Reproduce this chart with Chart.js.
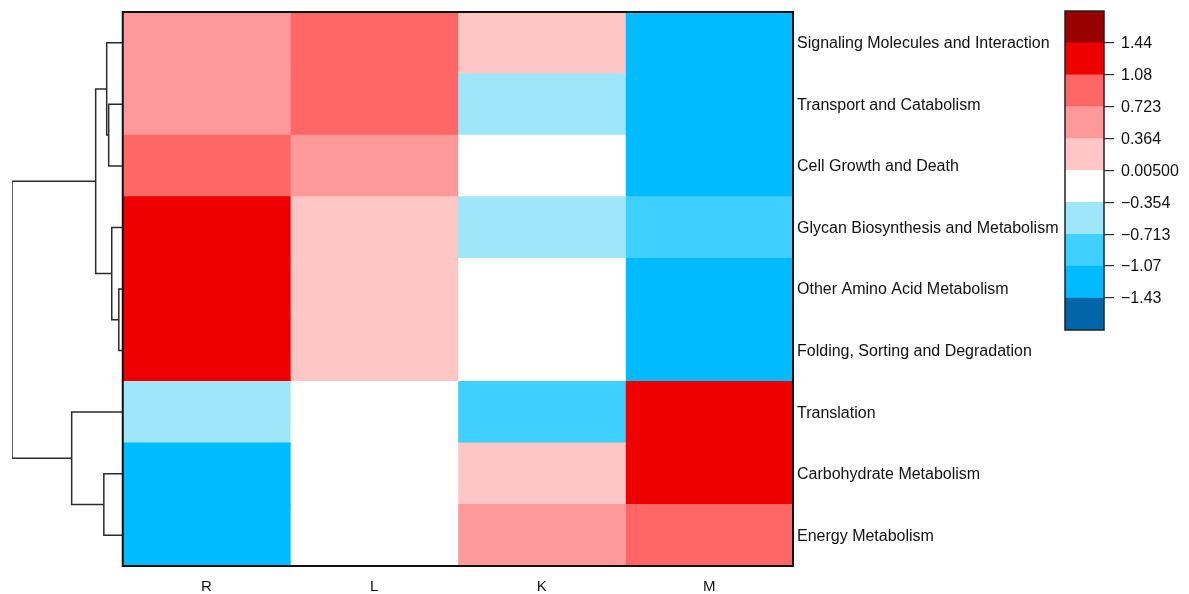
<!DOCTYPE html>
<html>
<head>
<meta charset="utf-8">
<script src="https://cdn.jsdelivr.net/npm/chart.js@4.4.1/dist/chart.umd.min.js"></script>
<style>
  html, body { margin: 0; padding: 0; background: #ffffff; }
  #wrap { position: relative; width: 1189px; height: 594px; }
  #heat { position: absolute; left: 0; top: 0; }
  #bar { position: absolute; left: 1055px; top: 0; }
</style>
</head>
<body>
<div id="wrap">
  <canvas id="heat" width="1189" height="594"></canvas>
  <canvas id="bar" width="134" height="345"></canvas>
</div>
<script>
// Pathways (rows, top to bottom) and samples (columns)
const rowNames = [
  'Signaling Molecules and Interaction',
  'Transport and Catabolism',
  'Cell Growth and Death',
  'Glycan Biosynthesis and Metabolism',
  'Other Amino Acid Metabolism',
  'Folding, Sorting and Degradation',
  'Translation',
  'Carbohydrate Metabolism',
  'Energy Metabolism'
];
const colNames = ['R', 'L', 'K', 'M'];

// Row-scaled abundance (z-score) per sample
const valuesR = [0.52, 0.60, 0.90, 1.30, 1.15, 1.20, -0.45, -1.25, -1.30];
const valuesL = [0.85, 1.00, 0.55, 0.20, 0.20, 0.15, -0.05, -0.15, -0.30];
const valuesK = [0.03, -0.45, -0.10, -0.60, -0.05, -0.10, -0.90, 0.25, 0.60];
const valuesM = [-1.40, -1.15, -1.35, -0.90, -1.30, -1.25, 1.40, 1.15, 1.00];
const columns = [valuesR, valuesL, valuesK, valuesM];

// Row clustering (hclust style: negative = leaf number, positive = earlier merge)
const mergeLeft   = [-2, -1, -5, -4, 2, -8, -7, 5];
const mergeRight  = [-3,  1, -6,  3, 4, -9,  6, 7];
const mergeHeight = [0.64, 0.73, 0.18, 0.50, 1.23, 0.86, 2.32, 5.03];

// Colour key: bin edges, drawn break labels and bin colours
const keyEdges  = [-1.789, -1.43, -1.07, -0.713, -0.354, 0.005, 0.364, 0.723, 1.08, 1.44, 1.799];
const keyBreaks = [-1.43, -1.07, -0.713, -0.354, 0.005, 0.364, 0.723, 1.08, 1.44];
const keyLabels = ['\u22121.43', '\u22121.07', '\u22120.713', '\u22120.354', '0.00500', '0.364', '0.723', '1.08', '1.44'];
const keyColors = ['#0066AA', '#00BBFF', '#40D0FF', '#A0E6FA', '#FFFFFF',
                   '#FFC6C6', '#FF9999', '#FF6666', '#EE0000', '#990000'];

const FONT = "'Liberation Sans', Arial, Helvetica, sans-serif";

function colorFor(v) {
  for (let i = 0; i < keyColors.length; i++) {
    if (v >= keyEdges[i] && v < keyEdges[i + 1]) return keyColors[i];
  }
  return v < keyEdges[0] ? keyColors[0] : keyColors[keyColors.length - 1];
}

// keep the plot area exactly where the layout padding puts it
function noLabelPadding(s) {
  s.paddingTop = 0; s.paddingBottom = 0; s.paddingLeft = 0; s.paddingRight = 0;
}

// Heatmap cells: one floating bar per cell, spanning its column on x
const cellSets = columns.map((vals, c) => ({
  type: 'bar',
  label: colNames[c],
  indexAxis: 'y',
  grouped: false,
  barPercentage: 1,
  categoryPercentage: 1,
  borderWidth: 0,
  data: vals.map((v, r) => ({ y: r + 0.5, x: [c, c + 1] })),
  backgroundColor: vals.map(colorFor)
}));

// Dendrogram drawn on the same x axis, to the left of 0
const DENDRO_SPAN = 0.661;           // width of the tree in column units
const rootH = Math.max(...mergeHeight);
const hx = h => -h / rootH * DENDRO_SPAN;
const nodeY = [];
function nodePos(id) {
  return id < 0 ? { y: -id - 1 + 0.5, h: 0 } : { y: nodeY[id - 1], h: mergeHeight[id - 1] };
}
const treeSets = mergeHeight.map((h, k) => {
  const a = nodePos(mergeLeft[k]);
  const b = nodePos(mergeRight[k]);
  nodeY[k] = (a.y + b.y) / 2;
  return {
    type: 'line',
    label: 'merge' + (k + 1),
    data: [
      { x: hx(a.h), y: a.y }, { x: hx(h), y: a.y },
      { x: hx(h), y: b.y }, { x: hx(b.h), y: b.y }
    ],
    borderColor: '#2b2b2b',
    borderWidth: 1.5,
    pointRadius: 0,
    fill: false,
    tension: 0
  };
});

// Black frame around the heatmap body
const heatFrame = {
  id: 'heatFrame',
  afterDatasetsDraw(chart) {
    const { ctx, chartArea, scales } = chart;
    const left = scales.x.getPixelForValue(0);
    ctx.save();
    ctx.strokeStyle = '#111111';
    ctx.lineWidth = 2;
    ctx.strokeRect(left, chartArea.top, chartArea.right - left, chartArea.bottom - chartArea.top);
    ctx.restore();
  }
};

new Chart(document.getElementById('heat'), {
  type: 'bar',
  data: { datasets: [...cellSets, ...treeSets] },
  options: {
    responsive: false,
    animation: false,
    events: [],
    layout: { padding: { top: 12, left: 12, right: 0, bottom: 0 } },
    plugins: { legend: { display: false }, tooltip: { enabled: false } },
    scales: {
      x: {
        type: 'linear',
        offset: false,
        min: hx(rootH),
        max: colNames.length,
        grid: { display: false, drawTicks: false, offset: false },
        border: { display: false },
        afterBuildTicks: s => { s.ticks = colNames.map((_, i) => ({ value: i + 0.5 })); },
        afterFit: s => { s.height = 28; noLabelPadding(s); },
        ticks: {
          autoSkip: false,
          maxRotation: 0,
          padding: 12,
          color: '#111111',
          font: { family: FONT, size: 15 },
          callback: (v, i) => colNames[i]
        }
      },
      y: {
        type: 'linear',
        offset: false,
        position: 'right',
        reverse: true,
        min: 0,
        max: rowNames.length,
        grid: { display: false, drawTicks: false, offset: false },
        border: { display: false },
        afterBuildTicks: s => { s.ticks = rowNames.map((_, i) => ({ value: i + 0.5 })); },
        afterFit: s => { s.width = 396; noLabelPadding(s); },
        ticks: {
          autoSkip: false,
          padding: 4,
          labelOffset: 1,
          color: '#111111',
          font: { family: FONT, size: 16 },
          callback: (v, i) => rowNames[i]
        }
      }
    }
  },
  plugins: [heatFrame]
});

// Colour key: one floating bar per bin
const keySets = keyColors.map((col, i) => ({
  label: 'bin' + (i + 1),
  data: [[keyEdges[i], keyEdges[i + 1]]],
  backgroundColor: col,
  borderWidth: 0,
  grouped: false,
  barPercentage: 1,
  categoryPercentage: 1
}));

const keyFrame = {
  id: 'keyFrame',
  afterDatasetsDraw(chart) {
    const { ctx, chartArea } = chart;
    ctx.save();
    ctx.strokeStyle = '#222222';
    ctx.lineWidth = 1.5;
    ctx.strokeRect(chartArea.left, chartArea.top, chartArea.right - chartArea.left, chartArea.bottom - chartArea.top);
    ctx.restore();
  }
};

new Chart(document.getElementById('bar'), {
  type: 'bar',
  data: { labels: [''], datasets: keySets },
  options: {
    responsive: false,
    animation: false,
    events: [],
    layout: { padding: { top: 11, left: 10, right: 0, bottom: 15 } },
    plugins: { legend: { display: false }, tooltip: { enabled: false } },
    scales: {
      x: { display: false },
      y: {
        type: 'linear',
        offset: false,
        position: 'right',
        min: keyEdges[0],
        max: keyEdges[keyEdges.length - 1],
        border: { display: false },
        grid: { drawOnChartArea: false, drawTicks: true, tickLength: 10, color: '#333333', lineWidth: 1.2 },
        afterBuildTicks: s => { s.ticks = keyBreaks.map(v => ({ value: v })); },
        afterFit: s => { s.width = 85; noLabelPadding(s); },
        ticks: {
          autoSkip: false,
          padding: 7,
          labelOffset: 1,
          color: '#111111',
          font: { family: FONT, size: 16 },
          callback: (v, i) => keyLabels[i]
        }
      }
    }
  },
  plugins: [keyFrame]
});
</script>
</body>
</html>
